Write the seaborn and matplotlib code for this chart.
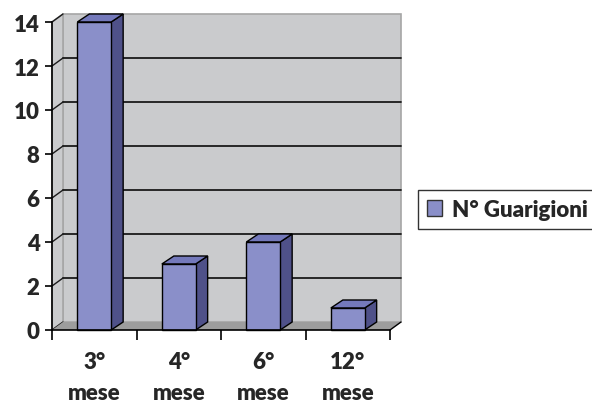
import matplotlib
matplotlib.use("Agg")
import matplotlib.pyplot as plt
from matplotlib.patches import Polygon, Patch
from matplotlib.lines import Line2D
import seaborn as sns
import pandas as pd

categories = ["3°\nmese", "4°\nmese", "6°\nmese", "12°\nmese"]
values = [14, 3, 4, 1]
series_name = "N° Guarigioni"
yticks = [0, 2, 4, 6, 8, 10, 12, 14]

FRONT = "#8a8fc9"
SIDE = "#4f5189"
TOP = "#7479bb"
WALL = "#cacbcd"
FLOOR = "#9d9d9d"
FONT = ["Lato", "DejaVu Sans"]
WEIGHT = "heavy"
FS = 16

sns.set_theme(style="white")
plt.rcParams["font.family"] = FONT
plt.rcParams["font.weight"] = WEIGHT

W, H = 592, 406
fig = plt.figure(figsize=(W / 100, H / 100), dpi=100)
# plot area (front plane) in pixels
x0, x1, ytop, ybot = 52, 390, 23, 331
ax = fig.add_axes([x0 / W, 1 - ybot / H, (x1 - x0) / W, (ybot - ytop) / H])
ax.set_facecolor("none")

df = pd.DataFrame({"mese": categories, "n": values})
sns.barplot(data=df, x="mese", y="n", color=FRONT, width=0.4, saturation=1,
            edgecolor="black", linewidth=1.0, ax=ax, zorder=5)
ax.set_xlim(-0.5, len(categories) - 0.5)
ax.set_ylim(0, 14)

# depth offsets (pixels -> data units)
px_x = (x1 - x0) / len(categories)
px_y = (ybot - ytop) / 14
wdx, wdy = 11 / px_x, 8 / px_y      # walls
bdx, bdy = 12 / px_x, 8 / px_y      # bars

xl, xr = -0.5, len(categories) - 0.5
# back wall
ax.add_patch(Polygon([(xl + wdx, wdy), (xr + wdx, wdy), (xr + wdx, 14 + wdy), (xl + wdx, 14 + wdy)],
                     closed=True, facecolor=WALL, edgecolor="#a6a6a6", lw=1.2, zorder=0, clip_on=False))
# left side wall
ax.add_patch(Polygon([(xl, 0), (xl + wdx, wdy), (xl + wdx, 14 + wdy), (xl, 14)],
                     closed=True, facecolor=WALL, edgecolor="#a6a6a6", lw=1.2, zorder=0, clip_on=False))
# gridlines on back and side walls
for t in yticks[1:-1]:
    ax.add_line(Line2D([xl + wdx, xr + wdx], [t + wdy, t + wdy], color="#1a1a1a", lw=1.3, zorder=1, clip_on=False))
for t in yticks:
    ax.add_line(Line2D([xl, xl + wdx], [t, t + wdy], color="#1a1a1a", lw=1.0, zorder=1, clip_on=False))
# floor
ax.add_patch(Polygon([(xl, 0), (xr, 0), (xr + wdx, wdy), (xl + wdx, wdy)],
                     closed=True, facecolor=FLOOR, edgecolor="none", zorder=2, clip_on=False))
ax.add_line(Line2D([xr, xr + wdx], [0, wdy], color="black", lw=1.0, zorder=3, clip_on=False))

# side and top faces of every bar
for p in ax.patches:
    if p.get_zorder() != 5:
        continue
    bx, bw, bh = p.get_x(), p.get_width(), p.get_height()
    p.set_clip_on(False)
    ax.add_patch(Polygon([(bx + bw, 0), (bx + bw + bdx, bdy), (bx + bw + bdx, bh + bdy), (bx + bw, bh)],
                         closed=True, facecolor=SIDE, edgecolor="black", lw=1.0, zorder=4, clip_on=False))
    ax.add_patch(Polygon([(bx, bh), (bx + bw, bh), (bx + bw + bdx, bh + bdy), (bx + bdx, bh + bdy)],
                         closed=True, facecolor=TOP, edgecolor="black", lw=1.0, zorder=4, clip_on=False))

# axes styling
for s in ["top", "right"]:
    ax.spines[s].set_visible(False)
for s in ["left", "bottom"]:
    ax.spines[s].set_color("black")
    ax.spines[s].set_linewidth(1.2)
    ax.spines[s].set_zorder(6)
ax.set_xlabel("")
ax.set_ylabel("")
ax.set_yticks(yticks)
ax.set_yticklabels([str(t) for t in yticks], fontsize=FS, fontweight=WEIGHT)
ax.tick_params(axis="y", direction="out", length=5, width=1.2, color="black", pad=4, left=True)
ax.set_xticks(range(len(categories)))
ax.set_xticklabels(categories, fontsize=FS, fontweight=WEIGHT, linespacing=1.62)
ax.tick_params(axis="x", which="major", length=0, pad=15)
ax.set_xticks([i - 0.5 for i in range(len(categories) + 1)], minor=True)
ax.tick_params(axis="x", which="minor", direction="out", length=7, width=1.2, color="black", bottom=True)
ax.grid(False)

handle = Patch(facecolor=FRONT, edgecolor="#333333", lw=1.0)
leg = fig.legend([handle], [series_name], loc="upper left",
                 bbox_to_anchor=(418 / W, 1 - 191 / H), frameon=True, fancybox=False,
                 borderaxespad=0, prop={"family": FONT, "weight": WEIGHT, "size": FS},
                 handlelength=0.7, handleheight=0.7, handletextpad=0.45, borderpad=0.4)
leg.get_frame().set_edgecolor("black")
leg.get_frame().set_linewidth(1.0)

fig.savefig("out.png", dpi=100, facecolor="white")
